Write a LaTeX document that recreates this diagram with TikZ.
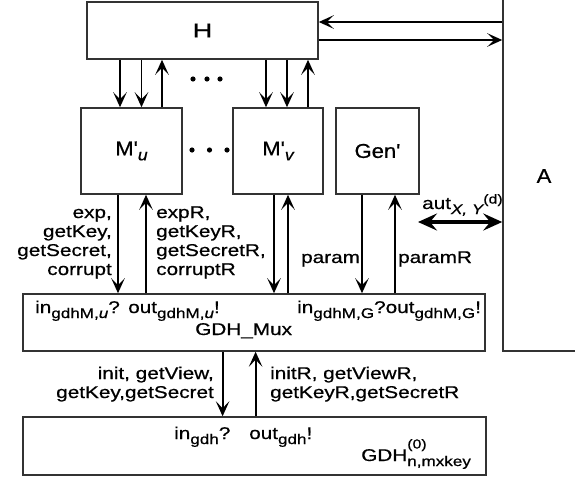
\documentclass[tikz,border=0pt]{standalone}
\usepackage{fontspec}
\setmainfont{Liberation Sans}
\usepackage{graphicx}
\usetikzlibrary{arrows.meta,calc}
\newcommand\sx[1]{\scalebox{1.22}[1]{#1}}
\newcommand\bx[2][1.1]{\scalebox{#1}[1]{#2}}
\newcommand\lbl{\fontsize{17}{19}\selectfont\addfontfeatures{FakeBold=0.6}}
\newcommand\bigf{\fontsize{20}{22}\selectfont\addfontfeatures{FakeBold=0.6}}
\newcommand\mysub[1]{\raisebox{-5pt}{\fontsize{14}{14}\selectfont\addfontfeatures{FakeBold=0.6}#1}}
\newcommand\mysup[2][6pt]{\raisebox{#1}{\fontsize{13}{13}\selectfont\addfontfeatures{FakeBold=0.6}#2}}
\newcommand\bigsub[1]{\raisebox{-5pt}{\fontsize{16}{17}\selectfont\addfontfeatures{FakeBold=0.6}#1}}
\newcommand\arrdn[3]{\draw[arr] ([xshift=#3]#1.south) -- ([xshift=#3]#1.south |- #2.north);}
\newcommand\arrup[3]{\draw[arr] ([xshift=#3]#1.south |- #2.north) -- ([xshift=#3]#1.south);}
\begin{document}
\begin{tikzpicture}[x=1pt,y=-1pt,
  box/.style={draw=black!80, line width=1.5pt, fill=white, inner sep=0pt, rectangle},
  arr/.style={line width=1.8pt, -{Stealth[length=15pt,width=13.5pt,inset=7pt]}},
  autarr/.style={line width=3.4pt, {Stealth[length=19pt,width=17pt,inset=7pt]}-{Stealth[length=19pt,width=17pt,inset=7pt]}},
  lab/.style={inner sep=0pt, font=\lbl}]
\useasboundingbox (0,0) rectangle (575,479);
% boxes
\node[box, minimum width=231pt, minimum height=57pt, font=\bigf] (H) at (202.5,30.5) {\bx[1.35]{H}};
\node[box, minimum width=80pt, minimum height=371pt] (A) at (543,165.5) {};
\node[inner sep=0pt, font=\bigf] (Alab) at (544,176) {\bx{A}};
\node[box, minimum width=101pt, minimum height=86pt, font=\bigf] (Mu) at (131.5,151) {\bx{M\textquotesingle\bigsub{\itshape u}}};
\node[box, minimum width=90pt, minimum height=86pt, font=\bigf] (Mv) at (278,151) {\bx{M\textquotesingle\bigsub{\itshape v}}};
\node[box, minimum width=83pt, minimum height=86pt, font=\bigf] (Gen) at (377.5,151) {\bx{Gen\textquotesingle}};
\node[box, minimum width=462pt, minimum height=57pt] (Mux) at (254,322.5) {};
\node[box, minimum width=463pt, minimum height=58pt] (GDH) at (254.5,446) {};
% H <-> A
\draw[arr] ([yshift=-9.5pt]H.east) -- ([yshift=-9.5pt]H.east -| A.west);
\draw[arr] ([yshift=8.5pt]H.east -| A.west) -- ([yshift=8.5pt]H.east);
% H <-> M'
\arrdn{H}{Mu}{-82.5pt}
\arrdn{H}{Mu}{-61pt}
\arrup{H}{Mu}{-40.5pt}
\arrdn{H}{Mv}{63.5pt}
\arrdn{H}{Mv}{84.5pt}
\arrup{H}{Mv}{105.5pt}
% dots
\foreach \x in {193,207,220} \fill (\x,79) circle (2.6pt);
\foreach \x in {192,209.5,227} \fill (\x,150) circle (2.6pt);
% M' <-> Mux
\arrdn{Mu}{Mux}{-13.5pt}
\arrup{Mu}{Mux}{14.5pt}
\arrdn{Mv}{Mux}{-4pt}
\arrup{Mv}{Mux}{10pt}
\arrdn{Gen}{Mux}{-15.5pt}
\arrup{Gen}{Mux}{17.5pt}
% Mux <-> GDH
\arrdn{Mux}{GDH}{-31.4pt}
\arrup{Mux}{GDH}{1.6pt}
% aut
\coordinate (autL) at (418,222);
\draw[autarr] (autL) -- (autL -| A.west);
\node[lab, anchor=base west] (aut) at (422,209) {\sx{aut\mysub{\itshape X, Y}\mysup[5.5pt]{(d)}}};
% labels M'u
\node[lab, anchor=base east] (e1) at (112,218) {\sx{exp,}};
\node[lab, anchor=base east] (e2) at (112,237) {\sx{getKey,}};
\node[lab, anchor=base east] (e3) at (112,256) {\sx{getSecret,}};
\node[lab, anchor=base east] (e4) at (112,275) {\sx{corrupt}};
\node[lab, anchor=base west] (r1) at (156,218) {\sx{expR,}};
\node[lab, anchor=base west] (r2) at (156,237) {\sx{getKeyR,}};
\node[lab, anchor=base west] (r3) at (156,256) {\sx{getSecretR,}};
\node[lab, anchor=base west] (r4) at (156,275) {\sx{corruptR}};
\node[lab, anchor=base west] (p1) at (301,263) {\sx{param}};
\node[lab, anchor=base west] (p2) at (398,263) {\sx{paramR}};
% Mux labels
\node[lab, anchor=base west] (m1) at (35,313) {\sx{in\mysub{gdhM,\textit{u}}?}};
\node[lab, anchor=base west] (m2) at (128,313) {\sx{out\mysub{gdhM,\textit{u}}!}};
\node[lab, anchor=base west] (m3) at (297,313) {\sx{in\mysub{gdhM,G}?out\mysub{gdhM,G}!}};
\node[lab, anchor=base west] (m4) at (195,335) {\sx{GDH\_Mux}};
% bottom labels
\node[lab, anchor=base east] (b1) at (214,379) {\sx{init, getView,}};
\node[lab, anchor=base east] (b2) at (214,398) {\sx{getKey,getSecret}};
\node[lab, anchor=base west] (b3) at (270,379) {\sx{initR, getViewR,}};
\node[lab, anchor=base west] (b4) at (270,398) {\sx{getKeyR,getSecretR}};
\node[lab, anchor=base west] (g1) at (174,439) {\sx{in\mysub{gdh}?}};
\node[lab, anchor=base west] (g2) at (249,439) {\sx{out\mysub{gdh}!}};
\node[lab, anchor=base west] (g3) at (361,461) {\sx{GDH\makebox[0pt][l]{\mysup[12.5pt]{(0)}}\mysub{n,mxkey}}};
\end{tikzpicture}
\end{document}
